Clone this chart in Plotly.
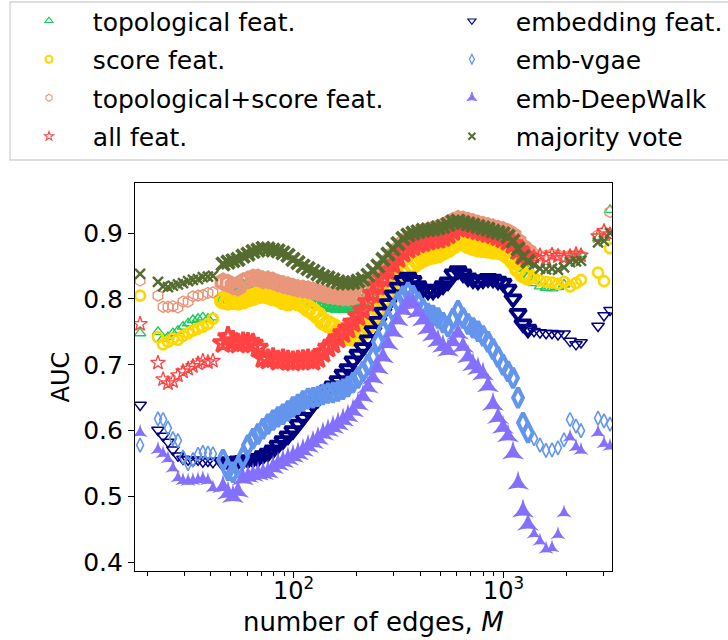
import math
import plotly.graph_objects as go

# Network sizes (number of edges M) at which the classifiers were evaluated
edges_M = [
    18.4, 22.4, 23.7, 25.0, 26.4, 27.9, 29.5, 31.2, 32.9, 34.8, 36.7, 38.8, 41.0,
    45.8, 48.4, 51.1, 54.0, 57.1, 60.3, 63.7, 67.3, 71.1, 75.1, 79.4, 83.9, 88.6, 93.6,
    98.9, 104.5, 110.4, 116.7, 123.3, 130.2, 137.6, 145.4, 153.6, 162.3, 171.5, 181.1,
    191.4, 202.2, 213.6, 225.7, 238.5, 251.9, 266.2, 281.2, 297.2, 313.9, 331.7, 350.5,
    370.3, 391.2, 413.3, 436.8, 461.5, 487.6, 515.2, 544.3, 575.1, 607.6, 641.8, 678.2,
    716.5, 757.0, 799.8, 845.1, 892.9, 943.4, 996.8, 1053, 1113, 1176, 1242, 1312,
    1402, 1497, 1600, 1709, 1825, 1950, 2083, 2225, 2351,
    2835, 3028, 3234,
]

auc_topological = [
    0.748, 0.750, 0.740, 0.742, 0.748, 0.752, 0.758, 0.763, 0.768, 0.770, 0.772, 0.770, 0.772,
    0.800, 0.805, 0.808, 0.812, 0.818, 0.822, 0.826, 0.828, 0.830, 0.830, 0.828, 0.824, 0.820,
    0.815, 0.810, 0.806, 0.803, 0.800, 0.796, 0.793, 0.790, 0.788, 0.787, 0.786, 0.786, 0.787,
    0.788, 0.790, 0.796, 0.806, 0.816, 0.824, 0.836, 0.848, 0.857, 0.866, 0.875, 0.882, 0.886,
    0.889, 0.891, 0.893, 0.895, 0.897, 0.900, 0.904, 0.908, 0.911, 0.910, 0.908, 0.906, 0.904,
    0.902, 0.900, 0.898, 0.896, 0.893, 0.889, 0.880, 0.866, 0.848, 0.833,
    0.824, 0.819, 0.817, 0.816, 0.818, 0.822, 0.862, 0.866, 0.868,
    0.892, 0.893, 0.935,
]

auc_score = [
    0.805, 0.742, 0.731, 0.735, 0.740, 0.738, 0.744, 0.748, 0.752, 0.755, 0.758, 0.762, 0.770,
    0.798, 0.796, 0.797, 0.796, 0.798, 0.801, 0.803, 0.806, 0.807, 0.805, 0.803, 0.801, 0.797,
    0.795, 0.797, 0.795, 0.792, 0.786, 0.781, 0.775, 0.766, 0.762, 0.758, 0.750, 0.746, 0.742,
    0.741, 0.744, 0.750, 0.760, 0.772, 0.785, 0.798, 0.810, 0.820, 0.829, 0.838, 0.845, 0.851,
    0.857, 0.861, 0.864, 0.866, 0.868, 0.872, 0.876, 0.881, 0.887, 0.886, 0.882, 0.879, 0.877,
    0.876, 0.875, 0.874, 0.873, 0.871, 0.866, 0.858, 0.846, 0.838, 0.834,
    0.832, 0.828, 0.826, 0.825, 0.823, 0.826, 0.819, 0.824, 0.829,
    0.840, 0.827, 0.877,
]

auc_topo_score = [
    0.828, 0.805, 0.788, 0.788, 0.789, 0.787, 0.796, 0.796, 0.804, 0.805, 0.806, 0.809, 0.810,
    0.826, 0.824, 0.820, 0.818, 0.826, 0.829, 0.832, 0.832, 0.829, 0.829, 0.827, 0.824, 0.822,
    0.820, 0.818, 0.816, 0.815, 0.814, 0.812, 0.810, 0.808, 0.806, 0.805, 0.804, 0.803, 0.803,
    0.804, 0.807, 0.811, 0.819, 0.829, 0.838, 0.848, 0.857, 0.866, 0.875, 0.884, 0.890, 0.895,
    0.898, 0.901, 0.903, 0.905, 0.907, 0.910, 0.914, 0.918, 0.921, 0.920, 0.918, 0.916, 0.914,
    0.912, 0.910, 0.908, 0.906, 0.904, 0.901, 0.896, 0.887, 0.878, 0.872,
    0.869, 0.866, 0.866, 0.868, 0.867, 0.865, 0.866, 0.867, 0.866,
    0.897, 0.902, 0.932,
]

auc_all = [
    0.762, 0.703, 0.678, 0.672, 0.675, 0.684, 0.690, 0.694, 0.698, 0.702, 0.706, 0.704, 0.706,
    0.733, 0.742, 0.736, 0.732, 0.734, 0.733, 0.732, 0.726, 0.710, 0.708, 0.710, 0.706, 0.708,
    0.706, 0.705, 0.706, 0.707, 0.708, 0.706, 0.710, 0.718, 0.726, 0.732, 0.740, 0.748, 0.755,
    0.764, 0.774, 0.783, 0.795, 0.808, 0.820, 0.832, 0.843, 0.853, 0.862, 0.870, 0.876, 0.880,
    0.884, 0.886, 0.888, 0.890, 0.891, 0.894, 0.898, 0.903, 0.908, 0.911, 0.909, 0.906, 0.904,
    0.902, 0.900, 0.898, 0.895, 0.892, 0.888, 0.883, 0.874, 0.866, 0.863,
    0.864, 0.866, 0.862, 0.867, 0.865, 0.862, 0.865, 0.868, 0.866,
    0.895, 0.903, 0.898,
]

auc_embedding = [
    0.639, 0.601, 0.592, 0.583, 0.571, 0.562, 0.557, 0.556, 0.554, 0.556, 0.553, 0.554, 0.552,
    0.552, 0.553, 0.551, 0.554, 0.555, 0.556, 0.557, 0.558, 0.562, 0.566, 0.571, 0.578, 0.585,
    0.592, 0.600, 0.610, 0.620, 0.630, 0.640, 0.648, 0.656, 0.662, 0.668, 0.676, 0.686, 0.694,
    0.706, 0.716, 0.726, 0.738, 0.752, 0.766, 0.780, 0.793, 0.806, 0.818, 0.828, 0.833, 0.828,
    0.820, 0.815, 0.812, 0.812, 0.815, 0.820, 0.826, 0.838, 0.843, 0.838, 0.832, 0.829, 0.827,
    0.829, 0.831, 0.830, 0.827, 0.824, 0.815, 0.800, 0.778, 0.762, 0.754,
    0.751, 0.749, 0.748, 0.748, 0.746, 0.747, 0.736, 0.731, 0.734,
    0.759, 0.775, 0.783,
]

auc_vgae = [
    0.578, 0.618, 0.617, 0.604, 0.588, 0.585, 0.560, 0.550, 0.556, 0.564, 0.567, 0.566, 0.565,
    0.556, 0.540, 0.537, 0.544, 0.560, 0.578, 0.588, 0.595, 0.603, 0.610, 0.616, 0.621, 0.625,
    0.630, 0.636, 0.640, 0.645, 0.649, 0.650, 0.652, 0.655, 0.657, 0.658, 0.660, 0.663, 0.667,
    0.673, 0.680, 0.690, 0.700, 0.712, 0.735, 0.752, 0.768, 0.782, 0.795, 0.804, 0.810, 0.805,
    0.795, 0.785, 0.778, 0.775, 0.771, 0.764, 0.758, 0.770, 0.782, 0.771, 0.762, 0.756, 0.751,
    0.744, 0.735, 0.724, 0.712, 0.700, 0.690, 0.680, 0.650, 0.612, 0.597,
    0.588, 0.578, 0.570, 0.571, 0.574, 0.586, 0.617, 0.607, 0.600,
    0.619, 0.615, 0.610,
]

auc_deepwalk = [
    0.597, 0.571, 0.565, 0.557, 0.543, 0.528, 0.524, 0.523, 0.524, 0.525, 0.527, 0.524, 0.513,
    0.515, 0.505, 0.500, 0.508, 0.527, 0.530, 0.532, 0.534, 0.535, 0.537, 0.544, 0.549, 0.553,
    0.557, 0.561, 0.565, 0.570, 0.576, 0.582, 0.588, 0.595, 0.600, 0.605, 0.610, 0.616, 0.622,
    0.630, 0.640, 0.652, 0.666, 0.680, 0.695, 0.712, 0.732, 0.750, 0.768, 0.783, 0.795, 0.792,
    0.780, 0.768, 0.755, 0.745, 0.736, 0.728, 0.722, 0.735, 0.748, 0.728, 0.712, 0.700, 0.694,
    0.686, 0.668, 0.640, 0.620, 0.605, 0.592, 0.566, 0.520, 0.478, 0.458,
    0.443, 0.432, 0.420, 0.422, 0.442, 0.475, 0.590, 0.575, 0.570,
    0.597, 0.580, 0.576,
]

auc_majority = [
    0.838, 0.826, 0.819, 0.818, 0.820, 0.822, 0.824, 0.827, 0.829, 0.830, 0.833, 0.834, 0.835,
    0.853, 0.856, 0.858, 0.860, 0.865, 0.868, 0.872, 0.874, 0.877, 0.876, 0.874, 0.873, 0.870,
    0.866, 0.860, 0.855, 0.850, 0.846, 0.842, 0.838, 0.834, 0.832, 0.829, 0.826, 0.824, 0.824,
    0.825, 0.827, 0.830, 0.836, 0.843, 0.850, 0.860, 0.868, 0.876, 0.884, 0.892, 0.897, 0.900,
    0.902, 0.904, 0.905, 0.906, 0.908, 0.910, 0.913, 0.917, 0.918, 0.916, 0.914, 0.912, 0.910,
    0.908, 0.906, 0.903, 0.901, 0.899, 0.895, 0.888, 0.876, 0.864, 0.857,
    0.852, 0.846, 0.845, 0.846, 0.844, 0.848, 0.856, 0.857, 0.858,
    0.886, 0.888, 0.900,
]

series_names = [
    "topological feat.", "score feat.", "topological+score feat.", "all feat.",
    "embedding feat.", "emb-vgae", "emb-DeepWalk", "majority vote",
]
series_values = [
    auc_topological, auc_score, auc_topo_score, auc_all,
    auc_embedding, auc_vgae, auc_deepwalk, auc_majority,
]

x_major_ticks = [100, 1000]
x_major_labels = ["10<sup>2</sup>", "10<sup>3</sup>"]
x_minor_ticks = [20, 30, 40, 50, 60, 70, 80, 90,
                 200, 300, 400, 500, 600, 700, 800, 900, 2000, 3000]
y_ticks = [0.4, 0.5, 0.6, 0.7, 0.8, 0.9]
y_labels = ["0.4", "0.5", "0.6", "0.7", "0.8", "0.9"]

# marker style per classifier:
# colour, symbol, size (sparse / crowded), outline width (sparse / crowded)
styles = {
    "topological feat.":       ("#1dc95e", "triangle-up-open", 10, 13, 1.4, 3.2),
    "score feat.":             ("#ffd700", "circle-open", 10, 14, 2.6, 4.4),
    "topological+score feat.": ("#e9967a", "hexagon-open", 11, 15, 1.4, 3.8),
    "all feat.":               ("#ff4343", "star-open", 11, 15, 1.3, 3.4),
    "embedding feat.":         ("#000080", "triangle-down-open", 11, 14, 1.5, 3.8),
    "emb-vgae":                ("#6495ed", "diamond-tall-open", 10, 14, 1.6, 4.0),
    "emb-DeepWalk":            ("#8470ff", "star-triangle-up", 11, 16, 0, 0),
    "majority vote":           ("#556b2f", "x-thin-open", 10, 13, 2.4, 3.8),
}

# the evaluated sizes are packed tightly between ~45 and ~1300 edges
crowded = [45 <= m <= 1320 for m in edges_M]

fig = go.Figure()
for name, values in zip(series_names, series_values):
    color, symbol, s_sparse, s_crowd, w_sparse, w_crowd = styles[name]
    sizes = [s_crowd if c else s_sparse for c in crowded]
    widths = [w_crowd if c else w_sparse for c in crowded]
    fig.add_trace(go.Scatter(
        x=edges_M, y=values, mode="markers", name=name, showlegend=False,
        marker=dict(color=color, symbol=symbol, size=sizes, opacity=1,
                    line=dict(color=color, width=widths)),
    ))

# legend entries with small markers, split over two columns
pad = "\u00a0\u00a0\u00a0"
for i, name in enumerate(series_names):
    color, symbol, s_sparse, s_crowd, w_sparse, w_crowd = styles[name]
    fig.add_trace(go.Scatter(
        x=[None], y=[None], mode="markers", name=pad + name,
        legendgroup=name, legend="legend" if i < 4 else "legend2",
        marker=dict(color=color, symbol=symbol, size=7, opacity=1,
                    line=dict(color=color, width=max(1.0, w_sparse * 0.8))),
    ))

legend_common = dict(
    xanchor="left", yanchor="top", bgcolor="rgba(0,0,0,0)", borderwidth=0,
    font=dict(family="DejaVu Sans", size=25, color="black"),
    tracegroupgap=3, itemsizing="trace", itemclick=False, itemdoubleclick=False,
)

# x tick labels and axis title placed just under the axis
annotations = [
    dict(x=math.log10(v), y=-0.047, xref="x", yref="paper", text=t,
         showarrow=False, xanchor="center", yanchor="middle",
         font=dict(family="DejaVu Sans", size=24, color="black"))
    for v, t in zip(x_major_ticks, x_major_labels)
]
annotations.append(dict(
    x=0.5, y=-0.1314, xref="paper", yref="paper",
    text="number of edges, <i>M</i>", showarrow=False,
    xanchor="center", yanchor="middle",
    font=dict(family="DejaVu Sans", size=26, color="black"),
))

fig.update_layout(
    width=728, height=640,
    margin=dict(l=135, r=116, t=183, b=69, autoexpand=False),
    paper_bgcolor="white", plot_bgcolor="white",
    font=dict(family="DejaVu Sans", size=24, color="black"),
    legend=dict(x=-0.2222, y=1.4768, **legend_common),
    legend2=dict(x=0.6644, y=1.4768, **legend_common),
    annotations=annotations,
    shapes=[dict(type="rect", xref="paper", yref="paper",
                 x0=-0.262, x1=1.30, y0=1.0593, y1=1.4665,
                 line=dict(color="#d3d3d3", width=1.3),
                 fillcolor="rgba(0,0,0,0)", layer="below")],
)

fig.update_xaxes(
    type="log", range=[1.2405, 3.5193],
    showline=True, mirror=True, linecolor="black", linewidth=1.2,
    ticks="outside", ticklen=6, tickwidth=1.2, tickcolor="black",
    tickvals=x_major_ticks, showticklabels=False,
    showgrid=False, zeroline=False, automargin=False,
    minor=dict(tickvals=x_minor_ticks, ticks="outside", ticklen=3.5,
               tickwidth=1, tickcolor="black", showgrid=False),
)
fig.update_yaxes(
    range=[0.387, 0.976],
    showline=True, mirror=True, linecolor="black", linewidth=1.2,
    ticks="outside", ticklen=6, tickwidth=1.2, tickcolor="black",
    tickvals=y_ticks, ticktext=y_labels,
    showgrid=False, zeroline=False, automargin=False,
    title=dict(text="AUC", standoff=6, font=dict(size=24)),
    tickfont=dict(size=25),
)

fig.write_html("out.html")
